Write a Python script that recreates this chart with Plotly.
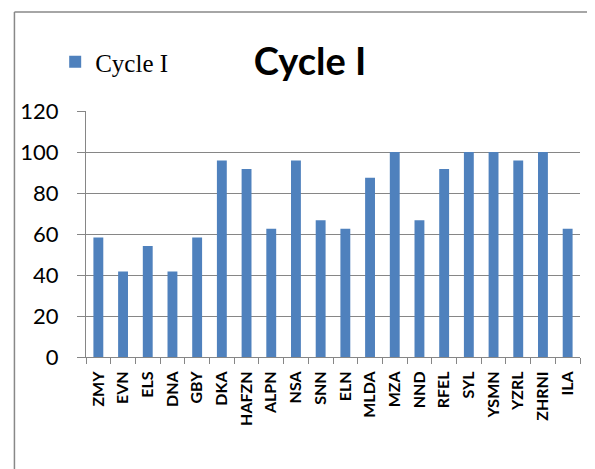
import plotly.graph_objects as go

categories = ["ZMY", "EVN", "ELS", "DNA", "GBY", "DKA", "HAFZN", "ALPN", "NSA", "SNN",
              "ELN", "MLDA", "MZA", "NND", "RFEL", "SYL", "YSMN", "YZRL", "ZHRNI", "ILA"]
values = [58.3, 41.7, 54.2, 41.7, 58.3, 95.8, 91.7, 62.5, 95.8, 66.7,
          62.5, 87.5, 100, 66.7, 91.7, 100, 100, 95.8, 100, 62.5]
series_name = "Cycle I"
y_ticks = [0, 20, 40, 60, 80, 100, 120]

# page body has an 8px margin; work in figure coords = page coords - 8
OFF = 8
W, H = 595 - OFF, 469 - OFF
PLOT_L, PLOT_R, PLOT_T, PLOT_B = 83, 580, 111, 357  # page coords
L, R, T, B = PLOT_L - OFF, W - (PLOT_R - OFF), PLOT_T - OFF, H - (PLOT_B - OFF)
pw, ph = W - L - R, H - T - B

def px_x(p):
    return (p - OFF - L) / pw

def px_y(p):
    return (H - B - (p - OFF)) / ph

border = dict(color="#888888", width=1.5)

fig = go.Figure()
fig.add_trace(go.Bar(
    x=categories, y=values, name=series_name,
    marker=dict(color="#4F81BD", line=dict(width=0)),
    showlegend=True,
))

fig.update_layout(
    width=W, height=H,
    margin=dict(l=L, r=R, t=T, b=B),
    paper_bgcolor="white", plot_bgcolor="white",
    bargap=0.6,
    title=dict(text="<b>Cycle I</b>", x=(310 - OFF) / W, xanchor="center",
               y=1 - (62 - OFF) / H, yanchor="middle",
               font=dict(family="Lato", size=38, color="black")),
    legend=dict(x=px_x(52), xanchor="left", y=px_y(62), yanchor="middle",
                font=dict(family="Liberation Serif", size=25, color="black"),
                bgcolor="rgba(0,0,0,0)", itemwidth=30),
    xaxis=dict(
        type="category", showline=True, linecolor="#868686", linewidth=1,
        ticks="outside", tickson="boundaries", ticklen=6, tickcolor="#868686",
        tickangle=-90, ticklabelstandoff=7,
        tickfont=dict(family="Lato", size=16, color="black", weight="bold"),
        showgrid=False, range=[-0.5, len(categories) - 0.5],
    ),
    yaxis=dict(
        range=[0, 120], tickvals=y_ticks, showline=True, linecolor="#868686", linewidth=1,
        ticks="outside", ticklen=8, tickcolor="#868686", ticklabelstandoff=14,
        showgrid=True, gridcolor="#868686", gridwidth=1,
        tickfont=dict(family="Lato", size=22, color="black"),
        zeroline=False,
    ),
    shapes=[
        dict(type="line", xref="paper", yref="paper",
             x0=px_x(11), x1=px_x(11), y0=px_y(469), y1=px_y(12),
             line=border, layer="below"),
        dict(type="line", xref="paper", yref="paper",
             x0=px_x(11), x1=px_x(595), y0=px_y(12), y1=px_y(12),
             line=border, layer="below"),
    ],
)

fig.write_html("out.html",
               post_script="document.documentElement.style.overflow='hidden';"
                           "document.body.style.overflow='hidden';")
